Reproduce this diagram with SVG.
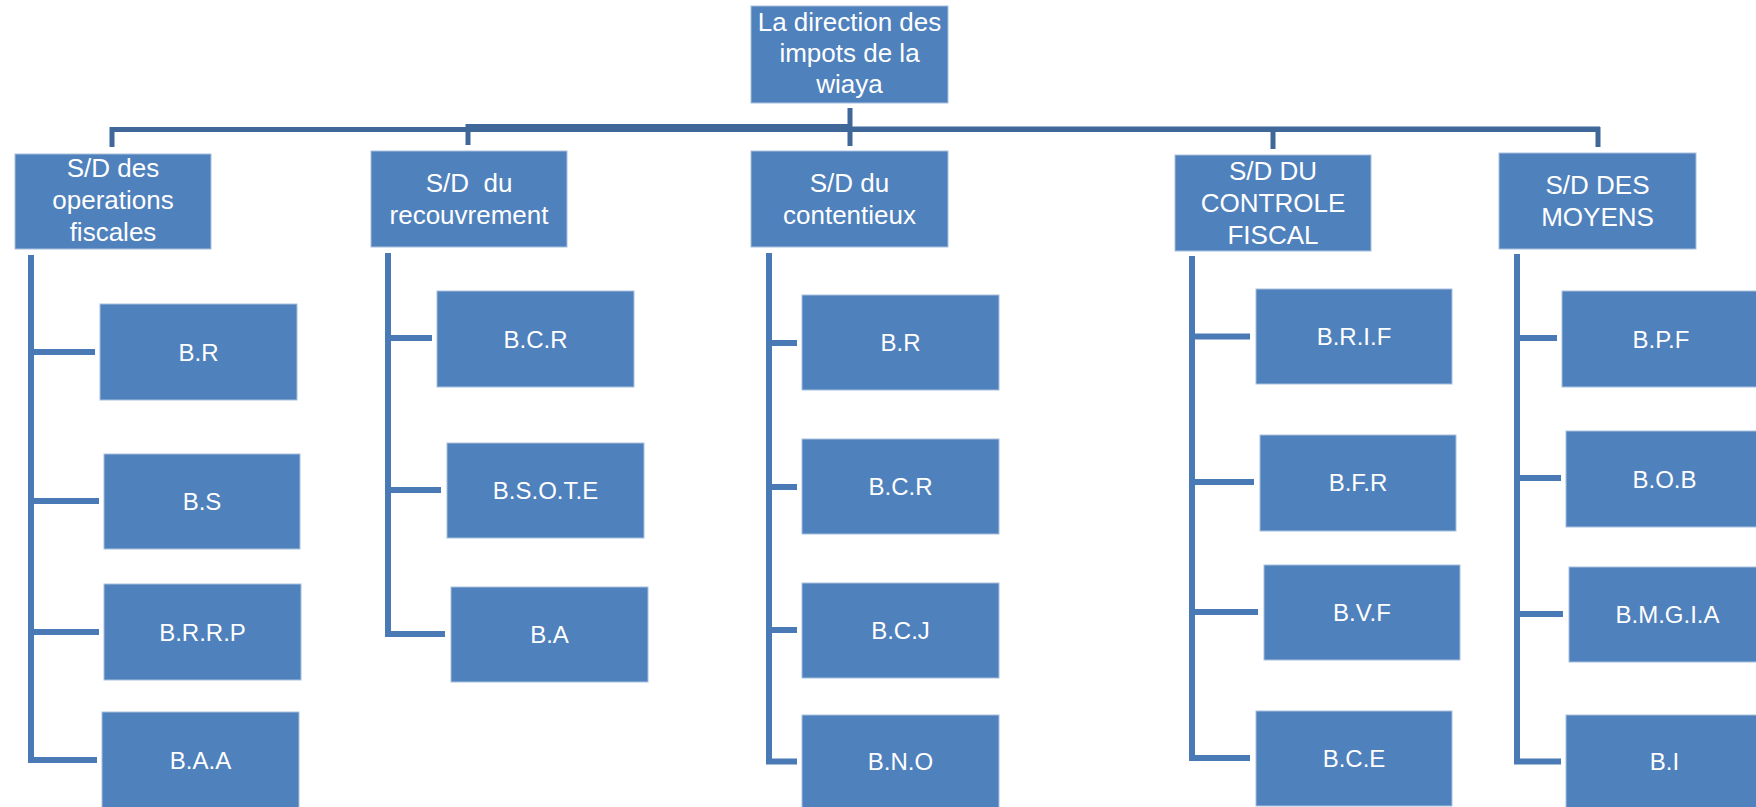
<svg xmlns="http://www.w3.org/2000/svg" width="1756" height="807" viewBox="0 0 1756 807">
<style>
.box{fill:#4f81bd;stroke:#a9c0de;stroke-width:1}
.t1{font-family:"Liberation Sans",Arial,sans-serif;font-size:26px;fill:#ffffff;text-anchor:middle}
.t3{font-family:"Liberation Sans",Arial,sans-serif;font-size:24px;fill:#ffffff;text-anchor:middle}
.top{stroke:#3f6899;fill:none;stroke-linecap:butt}
.sub{stroke:#4a7ab5;stroke-width:6;fill:none;stroke-linecap:butt}
</style>
<rect width="1756" height="807" fill="#ffffff"/>
<g id="connectors">
<path class="top" stroke-width="5" d="M850 108V146"/>
<path class="top" stroke-width="5" d="M110 129.5H468"/>
<path class="top" stroke-width="8" d="M468 128H852"/>
<path class="top" stroke-width="5.5" d="M850 129.3H1600"/>
<path class="top" stroke-width="5" d="M112 127V147M468 124V145M1273 127V149M1598 127V147"/>
<path class="sub" d="M31 255V763M28 352H95M28 501H99M28 632H99M28 760H97"/>
<path class="sub" d="M388 253V637M385 338H432M385 490H441M385 634H445"/>
<path class="sub" d="M769 253V764M766 343H797M766 487H797M766 630H797M766 761.5H797"/>
<path class="sub" d="M1192 256V761M1189 336.5H1250M1189 482H1254M1189 612H1258M1189 758H1250"/>
<path class="sub" d="M1517 254V764M1514 338H1557M1514 478H1561M1514 614H1563M1514 761.5H1561"/>
</g>
<g id="n-direction"><rect class="box" x="751" y="6" width="197" height="97"/><text class="t1" x="849.5" y="31">La direction des</text><text class="t1" x="849.5" y="62">impots de la</text><text class="t1" x="849.5" y="93">wiaya</text></g>
<g id="n-sd-operations"><rect class="box" x="15" y="154" width="196" height="95"/><text class="t1" x="113" y="177">S/D des</text><text class="t1" x="113" y="209">operations</text><text class="t1" x="113" y="241">fiscales</text></g>
<g id="n-sd-recouvrement"><rect class="box" x="371" y="151" width="196" height="96"/><text class="t1" x="469" y="192" xml:space="preserve">S/D  du</text><text class="t1" x="469" y="224">recouvrement</text></g>
<g id="n-sd-contentieux"><rect class="box" x="751" y="151" width="197" height="96"/><text class="t1" x="849.5" y="192">S/D du</text><text class="t1" x="849.5" y="224">contentieux</text></g>
<g id="n-sd-controle"><rect class="box" x="1175" y="155" width="196" height="96"/><text class="t1" x="1273" y="180">S/D DU</text><text class="t1" x="1273" y="212">CONTROLE</text><text class="t1" x="1273" y="244">FISCAL</text></g>
<g id="n-sd-moyens"><rect class="box" x="1499" y="153" width="197" height="96"/><text class="t1" x="1597.5" y="194">S/D DES</text><text class="t1" x="1597.5" y="226">MOYENS</text></g>
<g id="n-c1-br"><rect class="box" x="100" y="304" width="197" height="96"/><text class="t3" x="198.5" y="360.5">B.R</text></g>
<g id="n-c1-bs"><rect class="box" x="104" y="454" width="196" height="95"/><text class="t3" x="202" y="510">B.S</text></g>
<g id="n-c1-brrp"><rect class="box" x="104" y="584" width="197" height="96"/><text class="t3" x="202.5" y="640.5">B.R.R.P</text></g>
<g id="n-c1-baa"><rect class="box" x="102" y="712" width="197" height="97"/><text class="t3" x="200.5" y="768.5">B.A.A</text></g>
<g id="n-c2-bcr"><rect class="box" x="437" y="291" width="197" height="96"/><text class="t3" x="535.5" y="347.5">B.C.R</text></g>
<g id="n-c2-bsote"><rect class="box" x="447" y="443" width="197" height="95"/><text class="t3" x="545.5" y="499">B.S.O.T.E</text></g>
<g id="n-c2-ba"><rect class="box" x="451" y="587" width="197" height="95"/><text class="t3" x="549.5" y="643">B.A</text></g>
<g id="n-c3-br"><rect class="box" x="802" y="295" width="197" height="95"/><text class="t3" x="900.5" y="351">B.R</text></g>
<g id="n-c3-bcr"><rect class="box" x="802" y="439" width="197" height="95"/><text class="t3" x="900.5" y="495">B.C.R</text></g>
<g id="n-c3-bcj"><rect class="box" x="802" y="583" width="197" height="95"/><text class="t3" x="900.5" y="639">B.C.J</text></g>
<g id="n-c3-bno"><rect class="box" x="802" y="715" width="197" height="95"/><text class="t3" x="900.5" y="770">B.N.O</text></g>
<g id="n-c4-brif"><rect class="box" x="1256" y="289" width="196" height="95"/><text class="t3" x="1354" y="345">B.R.I.F</text></g>
<g id="n-c4-bfr"><rect class="box" x="1260" y="435" width="196" height="96"/><text class="t3" x="1358" y="491">B.F.R</text></g>
<g id="n-c4-bvf"><rect class="box" x="1264" y="565" width="196" height="95"/><text class="t3" x="1362" y="621">B.V.F</text></g>
<g id="n-c4-bce"><rect class="box" x="1256" y="711" width="196" height="95"/><text class="t3" x="1354" y="767">B.C.E</text></g>
<g id="n-c5-bpf"><rect class="box" x="1562" y="291" width="197" height="96"/><text class="t3" x="1661" y="347.5">B.P.F</text></g>
<g id="n-c5-bob"><rect class="box" x="1566" y="431" width="197" height="96"/><text class="t3" x="1664.5" y="487.5">B.O.B</text></g>
<g id="n-c5-bmgia"><rect class="box" x="1569" y="567" width="197" height="95"/><text class="t3" x="1667.5" y="623">B.M.G.I.A</text></g>
<g id="n-c5-bi"><rect class="box" x="1566" y="715" width="197" height="95"/><text class="t3" x="1664.5" y="770">B.I</text></g>
</svg>
